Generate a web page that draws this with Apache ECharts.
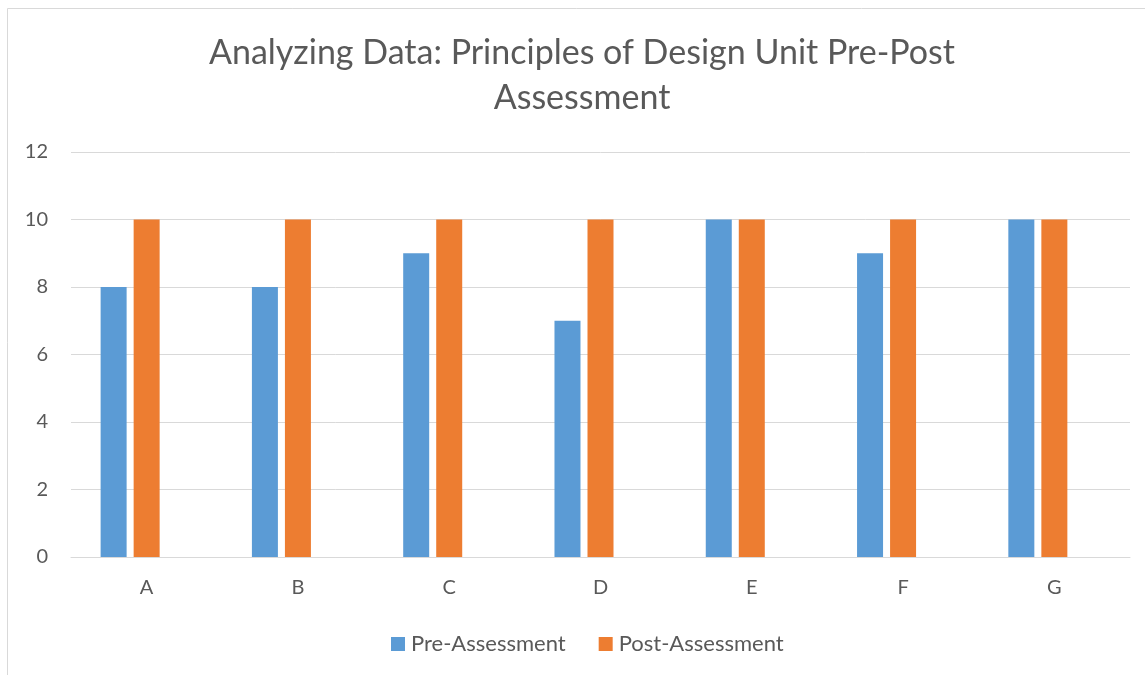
<!DOCTYPE html>
<html>
<head>
<meta charset="utf-8">
<script src="https://cdn.jsdelivr.net/npm/echarts@6/dist/echarts.min.js"></script>
<style>html,body{margin:0;padding:0;background:#fff}#c{width:1145px;height:675px}</style>
</head>
<body>
<div id="c"></div>
<script>
const titleText = 'Analyzing Data: Principles of Design Unit Pre-Post\nAssessment';
const categories = ['A', 'B', 'C', 'D', 'E', 'F', 'G'];
const preAssessment = [8, 8, 9, 7, 10, 9, 10];
const postAssessment = [10, 10, 10, 10, 10, 10, 10];
const emptySeries = [null, null, null, null, null, null, null];
const yTicks = { min: 0, max: 12, interval: 2 };

const FONT = 'Lato';
const chart = echarts.init(document.getElementById('c'), null, { renderer: 'canvas' });
chart.setOption({
  backgroundColor: '#ffffff',
  animation: false,
  graphic: [{
    type: 'rect', silent: true, z: -10,
    shape: { x: 7.5, y: 8.5, width: 1300, height: 1000 },
    style: { fill: 'none', stroke: '#d9d9d9', lineWidth: 1 }
  }],
  title: {
    text: titleText,
    left: 577, top: 26, textAlign: 'center',
    textStyle: { fontFamily: FONT, fontSize: 34, fontWeight: 'normal', color: '#595959', lineHeight: 45 }
  },
  legend: {
    data: ['Pre-Assessment', 'Post-Assessment'],
    left: 386, top: 628,
    itemWidth: 14, itemHeight: 14, itemGap: 33,
    icon: 'rect',
    textStyle: { fontFamily: FONT, fontSize: 22, color: '#595959', padding: [0, 0, 0, 1] }
  },
  grid: { left: 71, right: 15, top: 152, bottom: 118, containLabel: false },
  xAxis: {
    type: 'category', data: categories,
    axisLine: { lineStyle: { color: '#d9d9d9', width: 1 } },
    axisTick: { show: false },
    axisLabel: { fontFamily: FONT, fontSize: 20, color: '#595959', margin: 21 }
  },
  yAxis: {
    type: 'value', min: yTicks.min, max: yTicks.max, interval: yTicks.interval,
    axisLine: { show: false }, axisTick: { show: false },
    splitLine: { lineStyle: { color: '#d9d9d9', width: 1 } },
    axisLabel: { fontFamily: FONT, fontSize: 20, color: '#595959', margin: 23 }
  },
  series: [
    { name: 'Pre-Assessment', type: 'bar', data: preAssessment, barWidth: 26, barGap: '27%', itemStyle: { color: '#5b9bd5' } },
    { name: 'Post-Assessment', type: 'bar', data: postAssessment, barWidth: 26, barGap: '27%', itemStyle: { color: '#ed7d31' } },
    { name: 'blank', type: 'bar', data: emptySeries, barWidth: 26, barGap: '27%', itemStyle: { color: 'transparent' } }
  ]
});
</script>
</body>
</html>
